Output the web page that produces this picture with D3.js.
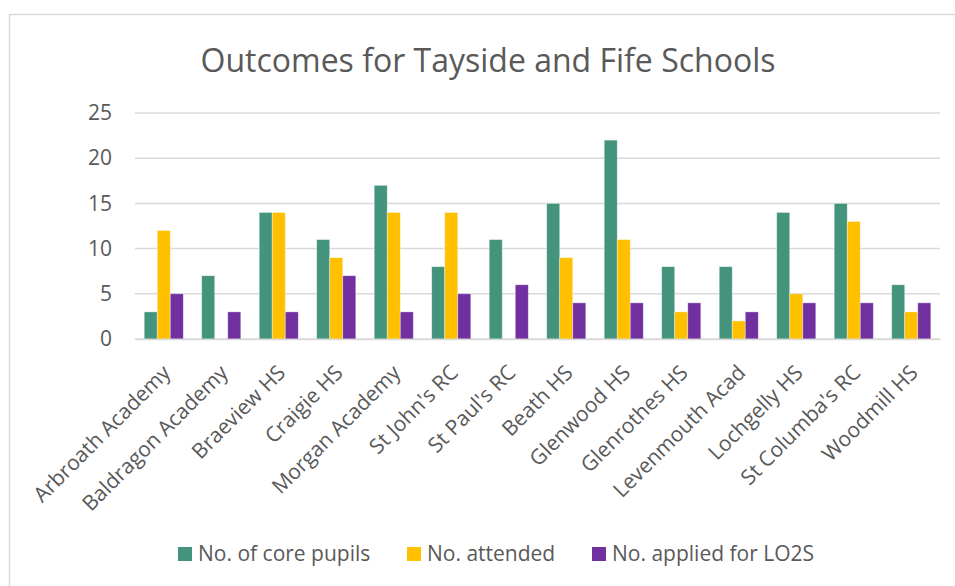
<!DOCTYPE html>
<html>
<head>
<meta charset="utf-8">
<script src="https://cdn.jsdelivr.net/npm/d3@7"></script>
<style>
  body { margin: 0; background: #fff; }
  text { font-family: "Open Sans", "Noto Sans", sans-serif; fill: #595959; }
</style>
</head>
<body>
<svg id="chart" width="955" height="586"></svg>
<script>
const schools = ["Arbroath Academy", "Baldragon Academy", "Braeview HS", "Craigie HS", "Morgan Academy",
  "St John's RC", "St Paul's RC", "Beath HS", "Glenwood HS", "Glenrothes HS", "Levenmouth Acad",
  "Lochgelly HS", "St Columba's RC", "Woodmill HS"];
const corePupils = [3, 7, 14, 11, 17, 8, 11, 15, 22, 8, 8, 14, 15, 6];
const attended   = [12, 0, 14, 9, 14, 14, 0, 9, 11, 3, 2, 5, 13, 3];
const appliedLO2S = [5, 3, 3, 7, 3, 5, 6, 4, 4, 4, 3, 4, 4, 4];
const seriesNames = ["No. of core pupils", "No. attended", "No. applied for LO2S"];
const seriesColors = ["#44937C", "#FFC000", "#7030A0"];
const yTicks = [0, 5, 10, 15, 20, 25];

const svg = d3.select("#chart");

// chart frame
svg.append("rect")
  .attr("x", 9.5).attr("y", 14.5)
  .attr("width", 960).attr("height", 600)
  .attr("fill", "#fff")
  .attr("stroke", "#d9d9d9")
  .attr("stroke-width", 1.5);

svg.append("text")
  .attr("x", 488).attr("y", 72)
  .attr("text-anchor", "middle")
  .style("font-size", "32px")
  .text("Outcomes for Tayside and Fife Schools");

const x0 = d3.scaleBand()
  .domain(schools)
  .range([135, 940])
  .paddingInner(0.32)
  .paddingOuter(0.16);

const x1 = d3.scaleBand()
  .domain(d3.range(3))
  .range([0, x0.bandwidth()]);

const y = d3.scaleLinear()
  .domain([0, 25])
  .range([339, 113]);

// gridlines
svg.append("g")
  .selectAll("line")
  .data(yTicks)
  .join("line")
  .attr("x1", 135).attr("x2", 940)
  .attr("y1", d => y(d)).attr("y2", d => y(d))
  .attr("stroke", "#d9d9d9")
  .attr("stroke-width", 1.5);

// y axis labels
const yAxis = d3.axisLeft(y).tickValues(yTicks).tickSize(0).tickPadding(0);
svg.append("g")
  .attr("transform", "translate(112,0)")
  .call(yAxis)
  .call(g => g.select(".domain").remove())
  .selectAll("text")
  .style("font-size", "21px")
  .attr("fill", "#595959");

const rows = schools.map((s, i) => ({
  school: s,
  values: [corePupils[i], attended[i], appliedLO2S[i]]
}));

svg.append("g")
  .selectAll("g")
  .data(rows)
  .join("g")
  .attr("transform", d => `translate(${x0(d.school)},0)`)
  .selectAll("rect")
  .data(d => d.values.map((v, k) => ({ v, k })).filter(e => e.v > 0))
  .join("rect")
  .attr("x", d => x1(d.k))
  .attr("width", x1.bandwidth())
  .attr("y", d => y(d.v))
  .attr("height", d => y(0) - y(d.v))
  .attr("fill", d => seriesColors[d.k])
  .attr("stroke", "#fff")
  .attr("stroke-opacity", 0.5)
  .attr("stroke-width", 0.75);

// x axis, labels rotated like excel
const xAxis = d3.axisBottom(x0).tickSize(0).tickPadding(0);
svg.append("g")
  .attr("transform", "translate(0,339)")
  .call(xAxis)
  .call(g => g.select(".domain").attr("stroke", "#d9d9d9").attr("stroke-width", 1.5))
  .selectAll("text")
  .style("font-size", "21px")
  .attr("fill", "#595959")
  .attr("text-anchor", "end")
  .attr("dy", 0)
  .attr("transform", "translate(8,35) rotate(-45)");

// legend
const legendX = [178, 407, 592];
const legend = svg.append("g")
  .selectAll("g")
  .data(seriesNames)
  .join("g")
  .attr("transform", (d, i) => `translate(${legendX[i]},547)`);
legend.append("rect")
  .attr("width", 14).attr("height", 14)
  .attr("fill", (d, i) => seriesColors[i]);
legend.append("text")
  .attr("x", 20).attr("y", 14)
  .style("font-size", "21px")
  .text(d => d);
</script>
</body>
</html>
